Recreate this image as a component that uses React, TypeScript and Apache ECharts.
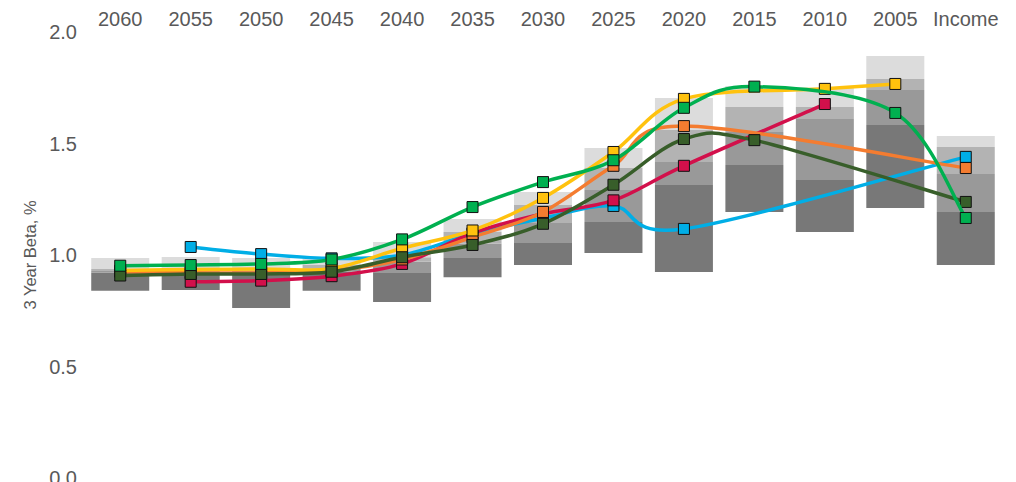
import React, { useEffect, useRef } from "react";
import * as echarts from "echarts";

const categories = ["2060", "2055", "2050", "2045", "2040", "2035", "2030", "2025", "2020", "2015", "2010", "2005", "Income"];

// Peer-group percentile bands (bottom to top)
const p5 = [0.84, 0.843, 0.762, 0.84, 0.789, 0.9, 0.955, 1.009, 0.924, 1.193, 1.103, 1.211, 0.955];
const p25 = [0.92, 0.925, 0.92, 0.925, 0.919, 0.987, 1.054, 1.148, 1.314, 1.404, 1.336, 1.583, 1.193];
const p50 = [0.928, 0.932, 0.93, 0.94, 0.97, 1.05, 1.143, 1.291, 1.417, 1.552, 1.61, 1.74, 1.363];
const p75 = [0.937, 0.942, 0.94, 0.955, 0.99, 1.103, 1.224, 1.39, 1.561, 1.664, 1.664, 1.789, 1.484];
const p95 = [0.987, 0.991, 0.987, 0.985, 1.058, 1.161, 1.283, 1.48, 1.704, 1.758, 1.75, 1.892, 1.534];

// Fund series (null = no value for that vintage)
const blueVals = [null, 1.036, 1.004, 0.985, 1.0, 1.095, 1.165, 1.22, 1.117, null, null, null, 1.44];
const crimsonVals = [null, 0.88, 0.885, 0.905, 0.96, 1.098, 1.185, 1.245, 1.4, null, 1.677, null, null];
const orangeVals = [0.925, 0.92, 0.92, 0.93, 0.98, 1.08, 1.193, 1.4, 1.578, null, null, null, 1.39];
const yellowVals = [0.93, 0.935, 0.937, 0.94, 1.03, 1.11, 1.256, 1.462, 1.7, null, 1.745, 1.767, null];
const darkGreenVals = [0.908, 0.915, 0.915, 0.925, 0.99, 1.045, 1.14, 1.315, 1.52, 1.515, null, null, 1.238];
const greenVals = [0.952, 0.955, 0.96, 0.98, 1.07, 1.215, 1.327, 1.425, 1.66, 1.755, null, 1.637, 1.166];

const yTicks = { min: 0, max: 2, interval: 0.5 };

const FONT = "Liberation Sans, Arial, sans-serif";

const diff = (a: number[], b: number[]) => a.map((v, i) => +(v - b[i]).toFixed(4));

export default function App() {
  const ref = useRef<HTMLDivElement>(null);
  useEffect(() => {
    if (!ref.current) return;
    const chart = echarts.init(ref.current, undefined, { renderer: "svg" });
    const barW = 58;
    const bandSeries: any[] = [
      { name: "base", data: p5, color: "transparent" },
      { name: "dark", data: diff(p25, p5), color: "#787878" },
      { name: "mid", data: diff(p50, p25), color: "#999999" },
      { name: "light", data: diff(p75, p50), color: "#b3b3b3" },
      { name: "lightest", data: diff(p95, p75), color: "#dcdcdc" },
    ].map((s) => ({
      type: "bar",
      name: s.name,
      stack: "band",
      barWidth: barW,
      data: s.data,
      itemStyle: { color: s.color },
      silent: true,
      z: 1,
    }));

    const lineSeries: any[] = [];
    const defs: [string, (number | null)[], string][] = [
      ["Blue", blueVals, "#00aee6"],
      ["Crimson", crimsonVals, "#d2104b"],
      ["Orange", orangeVals, "#f47c30"],
      ["Yellow", yellowVals, "#ffc20e"],
      ["Dark Green", darkGreenVals, "#385e2a"],
      ["Green", greenVals, "#00b050"],
    ];
    defs.forEach(([name, vals, color], k) => {
      const pts: [number, number][] = [];
      vals.forEach((v, i) => {
        if (v != null) pts.push([i, v]);
      });
      // Smoothed (Catmull-Rom style) curve through the data points, drawn via the axes' scales
      lineSeries.push({
        type: "custom",
        name: name + " curve",
        data: pts,
        encode: { x: 0, y: 1 },
        clip: false,
        silent: true,
        z: 3 + k * 2,
        renderItem: (params: any, api: any) => {
          const i = params.dataIndex;
          if (i >= pts.length - 1) return { type: "group", children: [] };
          const c = (j: number) => api.coord(pts[Math.max(0, Math.min(pts.length - 1, j))]);
          const p0 = c(i - 1);
          const p1 = c(i);
          const p2 = c(i + 1);
          const p3 = c(i + 2);
          const t = 1 / 6;
          return {
            type: "bezierCurve",
            shape: {
              x1: p1[0],
              y1: p1[1],
              cpx1: p1[0] + (p2[0] - p0[0]) * t,
              cpy1: p1[1] + (p2[1] - p0[1]) * t,
              cpx2: p2[0] - (p3[0] - p1[0]) * t,
              cpy2: p2[1] - (p3[1] - p1[1]) * t,
              x2: p2[0],
              y2: p2[1],
            },
            style: { stroke: color, lineWidth: 3.5, fill: null, lineCap: "round" },
          };
        },
      });
      lineSeries.push({
        type: "scatter",
        name,
        data: vals.map((v) => (v == null ? "-" : v)),
        symbol: "rect",
        symbolSize: 11,
        itemStyle: { color, borderColor: "#111", borderWidth: 1, opacity: 1 },
        z: 4 + k * 2,
      });
    });

    chart.setOption({
      animation: false,
      grid: { left: 85, right: 15, top: 32, bottom: 4, containLabel: false, outerBoundsMode: "none" },
      xAxis: {
        type: "category",
        position: "top",
        data: categories,
        axisLine: { show: false },
        axisTick: { show: false },
        axisLabel: { color: "#595959", fontSize: 20, fontFamily: FONT, margin: 3, interval: 0 },
      },
      yAxis: {
        type: "value",
        min: yTicks.min,
        max: yTicks.max,
        interval: yTicks.interval,
        name: "3 Year Beta, %",
        nameLocation: "middle",
        nameGap: 47,
        nameTextStyle: { color: "#595959", fontSize: 16.5, fontFamily: FONT },
        axisLine: { show: false },
        axisTick: { show: false },
        splitLine: { show: false },
        axisLabel: {
          color: "#595959",
          fontSize: 20,
          fontFamily: FONT,
          margin: 8,
          formatter: (v: number) => v.toFixed(1),
        },
      },
      series: [...bandSeries, ...lineSeries],
    });
    return () => chart.dispose();
  }, []);
  return <div ref={ref} style={{ width: 1016, height: 482, position: "absolute", left: 0, top: 0 }} />;
}
